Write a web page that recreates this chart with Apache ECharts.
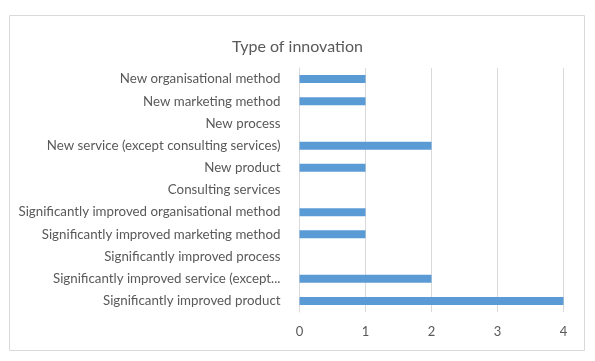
<!DOCTYPE html>
<html><head><meta charset="utf-8">
<script src="https://cdn.jsdelivr.net/npm/echarts@6/dist/echarts.min.js"></script>
<style>html,body{margin:0;padding:0;background:#fff}#c{width:595px;height:361px}</style>
</head><body><div id="c"></div>
<script>
const categories = [
  "Significantly improved product",
  "Significantly improved service (except...",
  "Significantly improved process",
  "Significantly improved marketing method",
  "Significantly improved organisational method",
  "Consulting services",
  "New product",
  "New service (except consulting services)",
  "New process",
  "New marketing method",
  "New organisational method"
];
const values = [4, 2, 0, 1, 1, 0, 1, 2, 0, 1, 1];
const xTicks = [0, 1, 2, 3, 4];
const title = "Type of innovation";

const chart = echarts.init(document.getElementById('c'), null, {renderer: 'canvas'});
const font = 'Lato';
chart.setOption({
  animation: false,
  graphic: [{type: 'rect', shape: {x: 9.5, y: 15.5, width: 575, height: 335}, style: {fill: 'none', stroke: '#D9D9D9', lineWidth: 1}, silent: true, z: -1}],
  title: {text: title, left: 'center', top: 34, textStyle: {fontFamily: font, fontSize: 16, fontWeight: 'normal', color: '#595959'}},
  grid: {left: 299.5, right: 31.5, top: 68, bottom: 49, containLabel: false},
  xAxis: {type: 'value', min: xTicks[0], max: xTicks[xTicks.length - 1], interval: 1,
    axisLine: {show: false}, axisTick: {show: false},
    axisLabel: {color: '#595959', fontFamily: font, fontSize: 13, margin: 13},
    splitLine: {lineStyle: {color: '#D9D9D9', width: 1}}},
  yAxis: {type: 'category', data: categories,
    axisLine: {show: true, lineStyle: {color: '#D9D9D9'}}, axisTick: {show: false},
    axisLabel: {color: '#595959', fontFamily: font, fontSize: 13.3, margin: 19}},
  series: [{type: 'bar', data: values, barWidth: 8, itemStyle: {color: '#5B9BD5'}}]
});
</script></body></html>
